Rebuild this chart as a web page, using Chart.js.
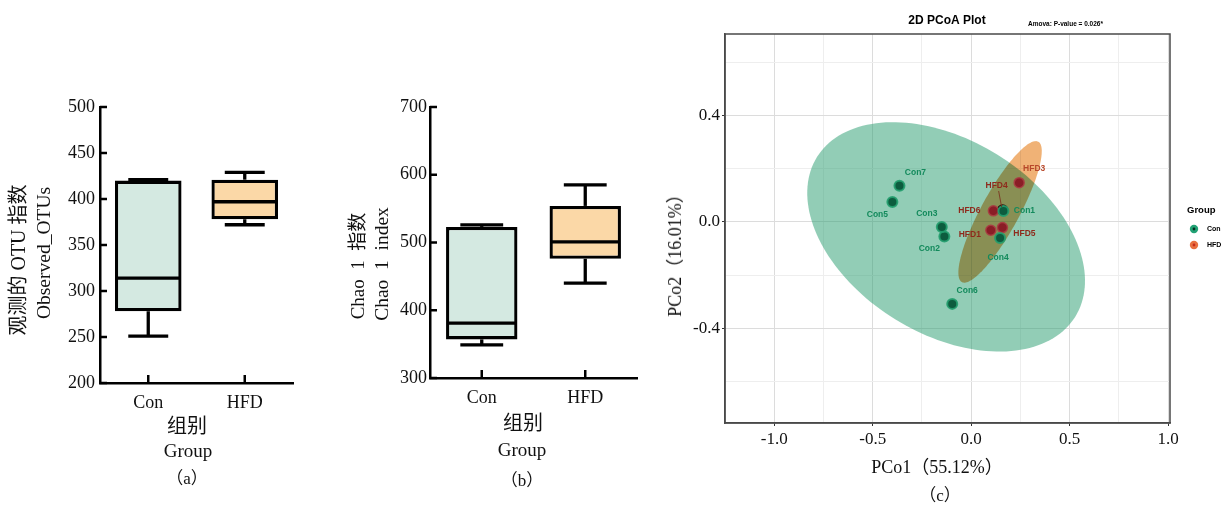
<!DOCTYPE html>
<html><head><meta charset="utf-8">
<script src="https://cdn.jsdelivr.net/npm/chart.js@4/dist/chart.umd.min.js"></script>
<style>
html,body{margin:0;padding:0;background:#fff;}
body{width:1225px;height:508px;position:relative;overflow:hidden;font-family:"Liberation Serif","Noto Sans CJK SC",serif;color:#111;}
canvas{position:absolute;top:0;}
.t{position:absolute;white-space:pre;transform:translate(-50%,-50%);line-height:1;}
.r{transform:translate(-50%,-50%) rotate(-90deg);}
</style></head><body>
<canvas id="ca" width="330" height="508" style="left:0px"></canvas>
<canvas id="cb" width="330" height="508" style="left:330px"></canvas>
<canvas id="cc" width="565" height="508" style="left:660px"></canvas>

<div class="t r" style="left:18px;top:260px;font-size:20px">观测的 OTU 指数</div>
<div class="t r" style="left:44px;top:253px;font-size:19.5px">Observed_OTUs</div>
<div class="t" style="left:187px;top:426px;font-size:20px">组别</div>
<div class="t" style="left:188px;top:450px;font-size:19px">Group</div>
<div class="t" style="left:187px;top:478px;font-size:17px">（a）</div>

<div class="t r" style="left:357px;top:266px;font-size:19px">Chao  1  指数</div>
<div class="t r" style="left:382px;top:264px;font-size:19.5px">Chao  1  index</div>
<div class="t" style="left:523px;top:423px;font-size:20px">组别</div>
<div class="t" style="left:522px;top:449px;font-size:19px">Group</div>
<div class="t" style="left:522px;top:480px;font-size:17px">（b）</div>

<div class="t" style="left:937px;top:467px;font-size:18px">PCo1（55.12%）</div>
<div class="t r" style="left:675px;top:251px;font-size:18px">PCo2（16.01%）</div>
<div class="t" style="left:940px;top:495px;font-size:17px">（c）</div>

<script>
// ---------- data ----------
const categories = ['Con', 'HFD'];
// Observed OTUs (panel a)
const otuMin = [251, 372];
const otuQ1  = [278, 378];
const otuMed = [314, 397];
const otuQ3  = [420, 421];
const otuMax = [421, 429];
const otuTicks = [200, 250, 300, 350, 400, 450, 500];
// Chao1 (panel b)
const chaoMin = [349, 440];
const chaoQ1  = [357, 476];
const chaoMed = [381, 501];
const chaoQ3  = [523, 554];
const chaoMax = [526, 585];
const chaoTicks = [300, 400, 500, 600, 700];
// PCoA (panel c)
const conNames = ['Con1', 'Con2', 'Con3', 'Con4', 'Con5', 'Con6', 'Con7'];
const conX = [0.164, -0.136, -0.149, 0.147, -0.400, -0.096, -0.364];
const conY = [0.041, -0.055, -0.019, -0.060, 0.075, -0.308, 0.136];
const hfdNames = ['HFD1', 'HFD3', 'HFD4', 'HFD5', 'HFD6'];
const hfdX = [0.100, 0.244, 0.160, 0.159, 0.113];
const hfdY = [-0.031, 0.148, 0.045, -0.021, 0.042];
// confidence ellipses: centre and two conjugate semi-axis vectors (data units)
const conEllipseCenter = [-0.127, -0.056];
const conEllipseU = [0.656, -0.300];
const conEllipseV = [-0.259, -0.310];
const hfdEllipseCenter = [0.147, 0.038];
const hfdEllipseU = [0.194, 0.264];
const hfdEllipseV = [0.085, -0.034];
const pcoXTicks = [-1.0, -0.75, -0.5, -0.25, 0, 0.25, 0.5, 0.75, 1.0];
const pcoYTicks = [-0.6, -0.4, -0.2, 0, 0.2, 0.4, 0.6];

// ---------- label placement (pixels, style only) ----------
const conLabelNudge = [[21,0],[-15,12],[-15,-13],[-2,20],[-15,13],[15,-13],[16,-13]];
const hfdLabelNudge = [[-21,4],[15,-14],[-6,-24],[22,6],[-24,0]];

const SERIF = '"Liberation Serif","Noto Sans CJK SC",serif';
const SANS = '"Liberation Sans",Arial,sans-serif';

function boxPlugin(mins, meds, maxs) {
  return {
    id: 'boxwhisk',
    afterDatasetsDraw(chart) {
      const ctx = chart.ctx, y = chart.scales.y;
      const meta = chart.getDatasetMeta(0);
      ctx.save();
      ctx.strokeStyle = '#000';
      ctx.lineWidth = 3.3;
      ctx.lineCap = 'butt';
      const line = (x1, y1, x2, y2) => { ctx.beginPath(); ctx.moveTo(x1, y1); ctx.lineTo(x2, y2); ctx.stroke(); };
      meta.data.forEach((el, i) => {
        const p = el.getProps(['x', 'width'], true);
        const x = p.x, w = p.width;
        const rng = chart.data.datasets[0].data[i];
        const yq1 = y.getPixelForValue(rng[0]), yq3 = y.getPixelForValue(rng[1]);
        const ymed = y.getPixelForValue(meds[i]);
        const ymin = y.getPixelForValue(mins[i]), ymax = y.getPixelForValue(maxs[i]);
        line(x - w / 2 + 1, ymed, x + w / 2 - 1, ymed);
        line(x, yq3, x, ymax);
        line(x, yq1, x, ymin);
        const cw = w * 0.6;
        line(x - cw / 2, ymax, x + cw / 2, ymax);
        line(x - cw / 2, ymin, x + cw / 2, ymin);
      });
      ctx.restore();
    }
  };
}

const innerTicks = {
  id: 'innerTicks',
  afterDraw(chart) {
    const ctx = chart.ctx, a = chart.chartArea;
    const xs = chart.scales.x, ys = chart.scales.y;
    ctx.save();
    ctx.strokeStyle = '#000';
    ctx.lineWidth = 2.5;
    ys.ticks.forEach((t, i) => {
      const py = ys.getPixelForTick(i);
      ctx.beginPath(); ctx.moveTo(a.left, py); ctx.lineTo(a.left + 7, py); ctx.stroke();
    });
    xs.ticks.forEach((t, i) => {
      const px = xs.getPixelForTick(i);
      ctx.beginPath(); ctx.moveTo(px, a.bottom); ctx.lineTo(px, a.bottom - 8); ctx.stroke();
    });
    ctx.restore();
  }
};

function boxChart(id, q1, q3, mins, meds, maxs, yMin, yMax, yStep, tickVals, pad, labelPad) {
  const ranges = q1.map((v, i) => [v, q3[i]]);
  return new Chart(document.getElementById(id), {
    type: 'bar',
    data: {
      labels: categories,
      datasets: [{
        data: ranges,
        backgroundColor: ['#d4e9e1', '#fbd8a7'],
        borderColor: '#000',
        borderWidth: 3.3,
        borderSkipped: false,
        barPercentage: 0.69,
        categoryPercentage: 1.0
      }]
    },
    options: {
      responsive: false, animation: false, devicePixelRatio: 1,
      layout: { padding: pad },
      plugins: { legend: { display: false }, tooltip: { enabled: false } },
      scales: {
        x: {
          offset: true,
          grid: { display: false, drawTicks: false },
          border: { display: true, color: '#000', width: 2.5 },
          ticks: { color: '#111', font: { family: SERIF, size: 18 }, padding: 9, maxRotation: 0 },
          afterFit: s => { s.height = 30; }
        },
        y: {
          min: yMin, max: yMax,
          grid: { display: false, drawTicks: false },
          border: { display: true, color: '#000', width: 2.5 },
          ticks: { color: '#111', font: { family: SERIF, size: 18 }, padding: labelPad, stepSize: yStep },
          afterBuildTicks: s => { s.ticks = tickVals.map(v => ({ value: v })); },
          afterFit: s => { s.width = 50; }
        }
      }
    },
    plugins: [boxPlugin(mins, meds, maxs), innerTicks]
  });
}

boxChart('ca', otuQ1, otuQ3, otuMin, otuMed, otuMax, 200, 500, 50, otuTicks,
  { left: 50, right: 37, top: 107, bottom: 95 }, 5);
boxChart('cb', chaoQ1, chaoQ3, chaoMin, chaoMed, chaoMax, 300, 700, 100, chaoTicks,
  { left: 50, right: 23, top: 107, bottom: 100 }, 3);

// ---------- PCoA ----------
function drawEllipse(chart, c, u, v, fill, op) {
  const xs = chart.scales.x, ys = chart.scales.y, ctx = chart.ctx, a = chart.chartArea;
  ctx.save();
  ctx.beginPath(); ctx.rect(a.left, a.top, a.right - a.left, a.bottom - a.top); ctx.clip();
  ctx.beginPath();
  const n = 160;
  for (let k = 0; k <= n; k++) {
    const t = k / n * 2 * Math.PI;
    const px = xs.getPixelForValue(c[0] + u[0] * Math.cos(t) + v[0] * Math.sin(t));
    const py = ys.getPixelForValue(c[1] + u[1] * Math.cos(t) + v[1] * Math.sin(t));
    if (k) ctx.lineTo(px, py); else ctx.moveTo(px, py);
  }
  ctx.closePath();
  ctx.globalCompositeOperation = op;
  ctx.fillStyle = fill;
  ctx.fill();
  ctx.restore();
}

const pcoaDecor = {
  id: 'pcoaDecor',
  beforeDatasetsDraw(chart) {
    drawEllipse(chart, conEllipseCenter, conEllipseU, conEllipseV, 'rgba(46,160,115,0.52)', 'source-over');
    drawEllipse(chart, hfdEllipseCenter, hfdEllipseU, hfdEllipseV, 'rgb(240,178,118)', 'multiply');
  },
  afterDatasetsDraw(chart) {
    const ctx = chart.ctx, xs = chart.scales.x, ys = chart.scales.y;
    ctx.save();
    ctx.font = 'bold 8.5px ' + SANS;
    ctx.textAlign = 'center';
    ctx.textBaseline = 'middle';
    // leader line HFD4
    const i4 = hfdNames.indexOf('HFD4');
    const p4x = xs.getPixelForValue(hfdX[i4]), p4y = ys.getPixelForValue(hfdY[i4]);
    ctx.strokeStyle = '#7a2a1a'; ctx.lineWidth = 0.8;
    ctx.beginPath(); ctx.moveTo(p4x + hfdLabelNudge[i4][0] + 2, p4y + hfdLabelNudge[i4][1] + 5);
    ctx.lineTo(p4x - 1, p4y - 3); ctx.stroke();
    conNames.forEach((n, i) => {
      ctx.fillStyle = '#138a5c';
      ctx.fillText(n, xs.getPixelForValue(conX[i]) + conLabelNudge[i][0], ys.getPixelForValue(conY[i]) + conLabelNudge[i][1]);
    });
    hfdNames.forEach((n, i) => {
      ctx.fillStyle = n === 'HFD3' ? '#b8482a' : '#8e2a1c';
      ctx.fillText(n, xs.getPixelForValue(hfdX[i]) + hfdLabelNudge[i][0], ys.getPixelForValue(hfdY[i]) + hfdLabelNudge[i][1]);
    });
    ctx.restore();
  },
  afterDraw(chart) {
    const ctx = chart.ctx, a = chart.chartArea;
    ctx.save();
    // frame
    ctx.strokeStyle = '#4a4a4a'; ctx.lineWidth = 1.5;
    ctx.strokeRect(a.left, a.top, a.right - a.left, a.bottom - a.top);
    // title
    ctx.fillStyle = '#000';
    ctx.textBaseline = 'middle';
    ctx.textAlign = 'center';
    ctx.font = 'bold 12px ' + SANS;
    ctx.fillText('2D PCoA Plot', 287, 21);
    ctx.textAlign = 'left';
    ctx.font = 'bold 6.5px ' + SANS;
    ctx.fillText('Amova: P-value = 0.026*', 368, 24);
    // legend
    ctx.font = 'bold 9.5px ' + SANS;
    ctx.fillText('Group', 527, 210);
    ctx.font = 'bold 7px ' + SANS;
    const items = [['Con', 229, '#22a275', '#062e20'], ['HFD', 245, '#e8703f', '#c62a1a']];
    items.forEach(([t, y, c1, c2]) => {
      ctx.beginPath(); ctx.arc(534, y, 4.2, 0, 2 * Math.PI); ctx.fillStyle = c1; ctx.fill();
      ctx.beginPath(); ctx.arc(534, y, 1.4, 0, 2 * Math.PI); ctx.fillStyle = c2; ctx.fill();
      ctx.fillStyle = '#000';
      ctx.fillText(t, 547, y + 0.5);
    });
    ctx.restore();
  }
};

const isMajorX = v => Math.abs(v * 2 - Math.round(v * 2)) < 1e-6;
const isMajorY = v => Math.abs(v / 0.4 - Math.round(v / 0.4)) < 1e-6;

new Chart(document.getElementById('cc'), {
  type: 'scatter',
  data: {
    datasets: [
      {
        data: conX.map((x, i) => ({ x: x, y: conY[i] })),
        pointRadius: 5, pointBackgroundColor: '#0d5c3e',
        pointBorderColor: 'rgba(36,158,110,0.9)', pointBorderWidth: 2
      },
      {
        data: conX.map((x, i) => ({ x: x, y: conY[i] })),
        pointRadius: 1.1, pointBackgroundColor: '#000', pointBorderWidth: 0
      },
      {
        data: hfdX.map((x, i) => ({ x: x, y: hfdY[i] })),
        pointRadius: 5,
        pointBackgroundColor: c => hfdNames[c.dataIndex] === 'HFD4' ? '#120606' : '#8a1d26',
        pointBorderColor: c => hfdNames[c.dataIndex] === 'HFD4' ? '#2a0e0e' : 'rgba(170,60,66,0.9)',
        pointBorderWidth: 1.5
      }
    ]
  },
  options: {
    responsive: false, animation: false, devicePixelRatio: 1,
    layout: { padding: { left: 20, right: 55, top: 34, bottom: 55 } },
    plugins: { legend: { display: false }, tooltip: { enabled: false } },
    scales: {
      x: {
        type: 'linear', min: -1.25, max: 1.01,
        afterBuildTicks: s => { s.ticks = pcoXTicks.map(v => ({ value: v })); },
        grid: {
          color: c => isMajorX(c.tick.value) ? '#dcdcdc' : '#eeeeee',
          tickColor: c => isMajorX(c.tick.value) ? '#333' : 'rgba(0,0,0,0)',
          tickLength: 3, lineWidth: 1
        },
        border: { display: true, color: '#4a4a4a', width: 1.5 },
        ticks: {
          autoSkip: false, maxRotation: 0, padding: 3, color: '#111',
          font: { family: SERIF, size: 17 },
          callback: v => isMajorX(v) ? v.toFixed(1) : ''
        },
        afterFit: s => { s.height = 30; }
      },
      y: {
        type: 'linear', min: -0.756, max: 0.707,
        afterBuildTicks: s => { s.ticks = pcoYTicks.map(v => ({ value: v })); },
        grid: {
          color: c => isMajorY(c.tick.value) ? '#dcdcdc' : '#eeeeee',
          tickColor: c => isMajorY(c.tick.value) ? '#333' : 'rgba(0,0,0,0)',
          tickLength: 3, lineWidth: 1
        },
        border: { display: true, color: '#4a4a4a', width: 1.5 },
        ticks: {
          autoSkip: false, padding: 2, color: '#111',
          font: { family: SERIF, size: 17 },
          callback: v => isMajorY(v) ? v.toFixed(1) : ''
        },
        afterFit: s => { s.width = 45; }
      }
    }
  },
  plugins: [pcoaDecor]
});
</script>
</body></html>
